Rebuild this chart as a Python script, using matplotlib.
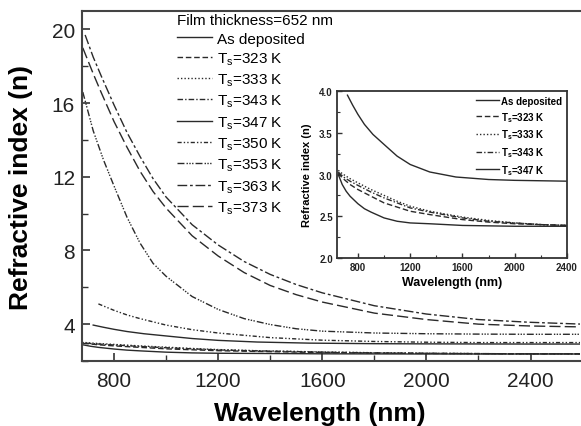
import matplotlib
matplotlib.use("Agg")
import matplotlib.pyplot as plt
from matplotlib.ticker import MultipleLocator

plt.rcParams['font.family'] = ['Liberation Sans', 'DejaVu Sans']
plt.rcParams['mathtext.fontset'] = 'custom'
plt.rcParams['mathtext.rm'] = 'Liberation Sans'

# ---------------- data ----------------
labels = ['As deposited', 'T$_\\mathregular{s}$=323 K', 'T$_\\mathregular{s}$=333 K',
          'T$_\\mathregular{s}$=343 K', 'T$_\\mathregular{s}$=347 K', 'T$_\\mathregular{s}$=350 K',
          'T$_\\mathregular{s}$=353 K', 'T$_\\mathregular{s}$=363 K', 'T$_\\mathregular{s}$=373 K']

wl_asdep = [720, 760, 800, 850, 915, 1000, 1100, 1200, 1350, 1550, 1800, 2000, 2400, 2600]
n_asdep = [3.95, 3.83, 3.72, 3.60, 3.48, 3.36, 3.22, 3.12, 3.03, 2.97, 2.94, 2.93, 2.92, 2.92]

wl_low = [650, 680, 710, 740, 800, 850, 900, 1000, 1100, 1200, 1350, 1600, 1800, 2000, 2200, 2400, 2600]
n_323 = [3.02, 2.96, 2.92, 2.88, 2.82, 2.78, 2.74, 2.66, 2.61, 2.56, 2.52, 2.46, 2.43, 2.41, 2.40, 2.39, 2.39]
n_333 = [3.05, 3.01, 2.98, 2.95, 2.90, 2.86, 2.82, 2.75, 2.68, 2.62, 2.56, 2.49, 2.45, 2.42, 2.40, 2.39, 2.39]
n_343 = [3.03, 2.98, 2.95, 2.92, 2.87, 2.83, 2.79, 2.72, 2.66, 2.60, 2.55, 2.48, 2.44, 2.42, 2.40, 2.39, 2.39]
n_347 = [3.00, 2.88, 2.80, 2.74, 2.65, 2.59, 2.55, 2.48, 2.44, 2.42, 2.41, 2.39, 2.385, 2.38, 2.38, 2.38, 2.38]

wl_350 = [740, 800, 850, 900, 1000, 1100, 1200, 1400, 1600, 1800, 2000, 2200, 2400, 2600]
n_350 = [5.1, 4.75, 4.5, 4.3, 3.95, 3.7, 3.52, 3.27, 3.13, 3.06, 3.02, 3.0, 3.0, 3.0]

wl_353 = [680, 720, 760, 800, 850, 900, 950, 1000, 1100, 1200, 1300, 1400, 1500, 1600, 1800, 2000, 2200, 2400, 2600]
n_353 = [16.6, 14.5, 12.9, 11.5, 9.8, 8.4, 7.3, 6.6, 5.5, 4.8, 4.3, 3.98, 3.75, 3.62, 3.52, 3.48, 3.46, 3.45, 3.45]

wl_363 = [689, 720, 750, 800, 850, 900, 950, 1000, 1100, 1200, 1300, 1400, 1500, 1600, 1800, 2000, 2200, 2400, 2600]
n_363 = [19.7, 18.5, 17.5, 15.9, 14.4, 13.1, 11.9, 10.9, 9.4, 8.3, 7.4, 6.7, 6.15, 5.7, 5.0, 4.55, 4.25, 4.1, 4.0]

wl_373 = [680, 720, 750, 800, 850, 900, 950, 1000, 1100, 1200, 1300, 1400, 1500, 1600, 1800, 2000, 2200, 2400, 2600]
n_373 = [19.0, 17.6, 16.6, 15.0, 13.6, 12.3, 11.2, 10.3, 8.8, 7.7, 6.8, 6.1, 5.6, 5.2, 4.6, 4.25, 4.0, 3.9, 3.85]

series = [(wl_asdep, n_asdep), (wl_low, n_323), (wl_low, n_333), (wl_low, n_343),
          (wl_low, n_347), (wl_350, n_350), (wl_353, n_353), (wl_363, n_363), (wl_373, n_373)]

styles = ['-', (0, (4, 2)), (0, (1, 1.5)), (0, (4, 1.5, 1, 1.5)), '-',
          (0, (3, 1.5, 1, 1.5, 1, 1.5)), (0, (5, 1.5, 1, 1, 1, 1, 1, 1.5)),
          (0, (7, 2, 2, 2)), (0, (8, 3))]

inset_n = 5  # inset shows first five series

# ---------------- figure ----------------
fig = plt.figure(figsize=(5.81, 4.27), dpi=100)
W, H = 581, 427
ax = fig.add_axes([82 / W, 1 - 362 / H, (580 - 82) / W, (362 - 12) / H])

line_col = '#2a2a2a'
handles = []
for (wl, n), ls, lab in zip(series, styles, labels):
    h, = ax.plot(wl, n, color=line_col, lw=1.0, ls=ls, label=lab)
    handles.append(h)

ax.set_xlim(677, 2590)
ax.set_ylim(2, 21)
ax.xaxis.set_major_locator(MultipleLocator(400))
ax.xaxis.set_minor_locator(MultipleLocator(200))
ax.yaxis.set_major_locator(MultipleLocator(4))
ax.yaxis.set_minor_locator(MultipleLocator(2))
ax.tick_params(which='both', direction='in', colors='#333333', labelcolor='#222222')
ax.tick_params(which='major', length=6, width=1.2, labelsize=15)
ax.tick_params(which='minor', length=4, width=1.0)
ax.tick_params(axis='x', pad=7)
ax.tick_params(axis='y', pad=5)
for s in ['left', 'bottom', 'top']:
    ax.spines[s].set_linewidth(1.5)
    ax.spines[s].set_color('#444444')
ax.spines['right'].set_visible(False)

ax.set_xlabel('Wavelength (nm)', fontsize=19, fontweight='bold')
ax.set_ylabel('Refractive index (n)', fontsize=19, fontweight='bold')
ax.xaxis.set_label_coords(0.478, -0.115)
ax.yaxis.set_label_coords(-0.098, 0.5)

leg = ax.legend(handles=handles, loc='upper left', bbox_to_anchor=(177 / W, 1 - 14 / H),
                bbox_transform=fig.transFigure, frameon=False, fontsize=11,
                title='Film thickness=652 nm', title_fontsize=11,
                handlelength=2.3, handletextpad=0.35, labelspacing=0.3,
                borderpad=0, borderaxespad=0, alignment='left')

# ---------------- inset ----------------
axi = fig.add_axes([337 / W, 1 - 259 / H, (567 - 337) / W, (259 - 92) / H])
ihandles = []
for (wl, n), ls, lab in list(zip(series, styles, labels))[:inset_n]:
    h, = axi.plot(wl, n, color=line_col, lw=1.0, ls=ls, label=lab)
    ihandles.append(h)
axi.set_xlim(640, 2400)
axi.set_ylim(2.0, 4.0)
axi.xaxis.set_major_locator(MultipleLocator(400))
axi.xaxis.set_minor_locator(MultipleLocator(200))
axi.yaxis.set_major_locator(MultipleLocator(0.5))
axi.yaxis.set_minor_locator(MultipleLocator(0.25))
axi.tick_params(which='both', direction='in', colors='#333333', labelcolor='#222222')
axi.tick_params(which='major', length=3.5, width=1.0, labelsize=7, pad=3)
axi.tick_params(which='minor', length=2, width=0.8)
for lab in axi.get_xticklabels() + axi.get_yticklabels():
    lab.set_fontweight('bold')
for s in axi.spines.values():
    s.set_linewidth(1.3)
    s.set_color('#333333')
axi.set_xlabel('Wavelength (nm)', fontsize=9, fontweight='bold')
axi.set_ylabel('Refractive index (n)', fontsize=8, fontweight='bold')
axi.xaxis.set_label_coords(0.5, -0.11)
axi.yaxis.set_label_coords(-0.11, 0.5)
axi.legend(handles=ihandles, loc='upper right', frameon=False,
           prop={'size': 7, 'weight': 'bold'}, handlelength=2.4, handletextpad=0.2,
           labelspacing=0.4, borderpad=0.3, borderaxespad=0.2)

fig.savefig('out.png', dpi=100)
